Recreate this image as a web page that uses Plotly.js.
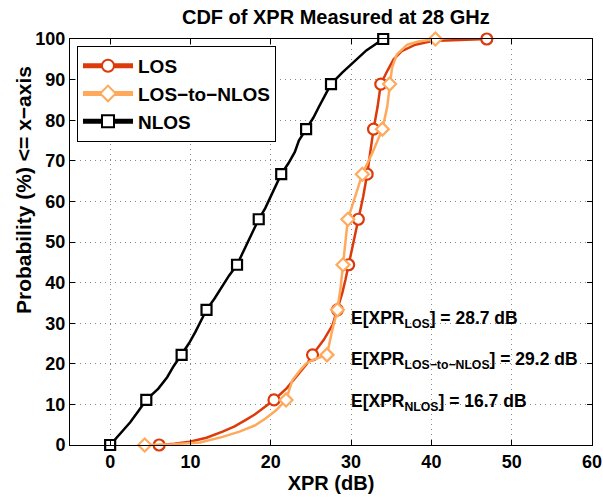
<!DOCTYPE html>
<html><head><meta charset="utf-8">
<script src="https://cdn.plot.ly/plotly-3.0.1.min.js"></script>
<style>html,body{margin:0;padding:0;background:#fff;}</style>
</head><body>
<div id="chart" style="width:603px;height:497px;"></div>
<script>
// ---- data ----
const seriesNames = ['LOS', 'LOS\u2212to\u2212NLOS', 'NLOS'];

const losX = [6.1, 8.0, 9.9, 12.0, 14.0, 15.5, 16.9, 18.0, 19.0, 20.4, 22.0, 23.5, 24.5, 25.2, 26.6, 27.7, 28.3, 28.9, 29.3, 29.7, 30.3, 30.9, 31.5, 32.0, 32.4, 32.8, 33.3, 33.7, 34.5, 35.3, 36.3, 38.0, 40.1, 42.3, 46.9];
const losY = [0, 0.3, 0.8, 1.8, 3.3, 4.6, 6.2, 7.5, 9.0, 11.1, 14.0, 17.5, 20.0, 22.2, 25.9, 29.6, 33.3, 37.4, 40.7, 44.4, 50.0, 55.6, 61.1, 66.7, 72.2, 77.8, 83.3, 88.9, 92.1, 95.0, 97.0, 98.6, 99.5, 99.7, 100];
const losMarkerIdx = [0, 9, 13, 16, 19, 21, 23, 25, 27, 34];

const l2nX = [4.3, 7.8, 11.2, 14.0, 16.1, 18.0, 19.4, 20.7, 21.9, 22.7, 23.6, 24.4, 25.3, 26.3, 27.0, 27.6, 28.3, 28.7, 29.0, 29.3, 29.6, 30.5, 31.4, 32.7, 33.9, 34.5, 34.8, 35.1, 35.7, 37.0, 38.4, 40.5];
const l2nY = [0, 0.2, 0.6, 2.0, 3.3, 4.8, 6.6, 8.6, 11.1, 16.0, 18.3, 20.1, 21.0, 21.6, 22.2, 27.8, 33.3, 38.9, 44.4, 50.0, 55.6, 61.1, 66.7, 72.2, 77.8, 83.3, 88.9, 92.9, 96.2, 98.6, 99.4, 100];
const l2nMarkerIdx = [0, 8, 14, 16, 18, 20, 22, 24, 26, 31];

const nlosX = [0, 1.2, 2.5, 3.5, 4.5, 6.0, 7.1, 7.9, 8.9, 9.8, 10.6, 11.3, 12.0, 13.0, 13.9, 14.8, 15.8, 16.5, 17.1, 17.8, 18.5, 19.3, 20.0, 20.6, 21.3, 22.2, 23.0, 23.5, 24.4, 25.3, 26.0, 26.7, 27.5, 28.9, 30.4, 31.9, 34.0];
const nlosY = [0, 2.8, 5.6, 8.3, 11.1, 13.9, 16.7, 19.4, 22.2, 25.0, 27.8, 30.6, 33.3, 36.1, 38.9, 41.7, 44.4, 47.2, 50.0, 52.8, 55.6, 58.3, 61.1, 63.9, 66.7, 69.4, 72.2, 75.0, 77.8, 80.6, 83.3, 86.1, 88.9, 91.7, 94.4, 97.2, 100];
const nlosMarkerIdx = [0, 4, 8, 12, 16, 20, 24, 28, 32, 36];

const xTicks = [0, 10, 20, 30, 40, 50, 60];
const yTicks = [0, 10, 20, 30, 40, 50, 60, 70, 80, 90, 100];
const meanLabels = [
  'E[XPR<sub>LOS</sub>] = 28.7 dB',
  'E[XPR<sub>LOS\u2212to\u2212NLOS</sub>] = 29.2 dB',
  'E[XPR<sub>NLOS</sub>] = 16.7 dB'
];
const chartTitle = 'CDF of XPR Measured at 28 GHz';
const xTitle = 'XPR (dB)';
const yTitle = 'Probability (%) <= x\u2212axis';

// ---- styling ----
const FONT = 'Liberation Sans, Arial, Helvetica, sans-serif';
function sizes(n, idx, s) {
  const out = new Array(n).fill(0);
  idx.forEach(i => { out[i] = s; });
  return out;
}
function mkTrace(x, y, idx, name, color, symbol, msize) {
  return {
    type: 'scatter', mode: 'lines+markers', name: name, x: x, y: y,
    cliponaxis: false,
    line: {color: color, width: 2.5},
    marker: {symbol: symbol, size: sizes(x.length, idx, msize), color: '#ffffff', opacity: 1,
             line: {color: color, width: 2.2}}
  };
}
const traces = [
  mkTrace(losX, losY, losMarkerIdx, seriesNames[0], '#DC3A0A', 'circle', 11),
  mkTrace(l2nX, l2nY, l2nMarkerIdx, seriesNames[1], '#FFA95C', 'diamond', 10),
  mkTrace(nlosX, nlosY, nlosMarkerIdx, seriesNames[2], '#000000', 'square', 10)
];

const annY = [30.8, 20.7, 10.5];
const annotations = meanLabels.map((t, i) => ({
  text: t, x: 29.8, y: annY[i], xref: 'x', yref: 'y', xanchor: 'left', yanchor: 'middle',
  showarrow: false, font: {family: FONT, size: 17.5, weight: 700, color: '#000'}
}));
annotations.push({
  text: yTitle, textangle: -90, xref: 'paper', yref: 'paper',
  x: -0.09, y: 0.628, xanchor: 'center', yanchor: 'middle', showarrow: false,
  font: {family: FONT, size: 21, weight: 700, color: '#000'}
});

const axisCommon = {
  showline: true, linecolor: '#000', linewidth: 1, mirror: 'ticks',
  ticks: 'inside', ticklen: 5, tickcolor: '#000', tickwidth: 1,
  showgrid: true, gridcolor: '#8a8a8a', gridwidth: 1, griddash: '1px,4px',
  zeroline: false, tickfont: {family: FONT, size: 18, weight: 700, color: '#000'}
};

const layout = {
  width: 603, height: 497,
  margin: {l: 70, r: 11, t: 39, b: 52},
  paper_bgcolor: '#fff', plot_bgcolor: '#fff',
  font: {family: FONT, color: '#000'},
  title: {text: chartTitle, x: 0.557, xref: 'container', xanchor: 'center',
          y: 0.966, yref: 'container', yanchor: 'middle',
          font: {family: FONT, size: 20, weight: 700, color: '#000'}},
  xaxis: Object.assign({}, axisCommon, {range: [-5, 60], tickvals: xTicks, ticktext: xTicks.map(String),
          title: {text: xTitle, standoff: 2, font: {family: FONT, size: 20, weight: 700, color: '#000'}}}),
  yaxis: Object.assign({}, axisCommon, {range: [0, 100], tickvals: yTicks, ticktext: yTicks.map(String)}),
  legend: {x: 0.0134, y: 0.983, xanchor: 'left', yanchor: 'top', bgcolor: '#fff',
           bordercolor: '#000', borderwidth: 1, itemsizing: 'constant', itemwidth: 50,
           font: {family: FONT, size: 19, weight: 700, color: '#000'}},
  showlegend: true,
  annotations: annotations
};

Plotly.newPlot('chart', traces, layout, {displayModeBar: false, staticPlot: true});
</script>
</body></html>
